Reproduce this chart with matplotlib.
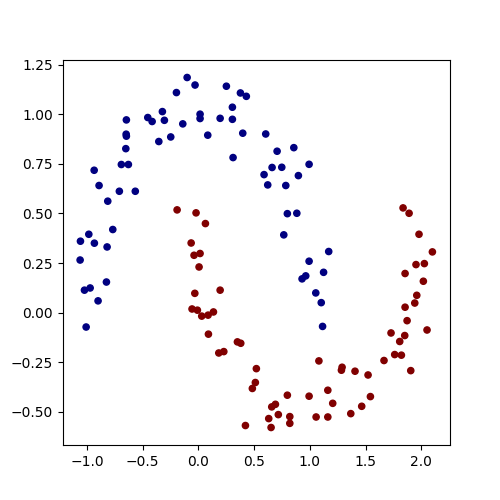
import numpy as np
import matplotlib
matplotlib.use("Agg")
import matplotlib.pyplot as plt

blue_x = [-0.101, -0.030, -0.197, -0.323, -0.454, -0.415, -0.305, -0.646, -0.140, -0.648,
          -0.646, -0.248, -0.355, -0.651, -0.691, -0.628, -0.935, -0.891, -0.709, -0.566,
          0.251, 0.377, 0.430, 0.305, 0.015, 0.015, 0.195, 0.305, 0.084, 0.398,
          0.604, 0.856, 0.706, 0.311, 0.993, 0.661, 0.748, 0.589, 0.897, 0.622,
          0.784, 0.798, 0.883, 0.766, 0.993, 1.123, 0.930, 0.963, 1.053, 1.102,
          1.114, 1.169, -0.813, -0.768, -0.983, -1.058, -0.933, -0.819, -1.061, -0.825,
          -1.022, -0.971, -0.900, -1.007]
blue_y = [1.186, 1.148, 1.110, 1.014, 0.984, 0.964, 0.970, 0.972, 0.952, 0.900,
          0.890, 0.886, 0.863, 0.827, 0.747, 0.747, 0.718, 0.641, 0.612, 0.612,
          1.142, 1.108, 1.091, 1.036, 1.001, 0.979, 0.980, 0.975, 0.895, 0.905,
          0.901, 0.832, 0.814, 0.782, 0.748, 0.732, 0.733, 0.696, 0.691, 0.644,
          0.641, 0.499, 0.501, 0.392, 0.259, 0.203, 0.170, 0.185, 0.099, 0.050,
          -0.070, 0.308, 0.562, 0.419, 0.395, 0.360, 0.350, 0.331, 0.265, 0.154,
          0.113, 0.124, 0.059, -0.073]

red_x = [-0.191, -0.021, 0.063, -0.065, -0.039, 0.015, 0.006, -0.032, 0.195, -0.057,
         -0.009, 0.030, 0.087, 0.135, 0.090, 0.183, 0.228, 0.350, 0.380, 0.520,
         0.511, 0.484, 0.798, 0.993, 1.081, 0.658, 0.691, 0.717, 0.631, 0.820,
         0.820, 0.652, 0.422, 1.056, 1.872, 2.051, 1.728, 1.851, 1.806, 1.761,
         1.821, 1.665, 1.905, 1.289, 1.283, 1.405, 1.522, 1.161, 1.205, 1.543,
         1.465, 1.367, 1.161, 1.836, 1.890, 1.979, 2.099, 1.952, 2.027, 1.854,
         2.018, 1.959, 1.941, 1.854]
red_y = [0.518, 0.503, 0.449, 0.351, 0.289, 0.298, 0.230, 0.097, 0.113, 0.018,
         0.012, -0.018, -0.013, 0.003, -0.109, -0.204, -0.197, -0.148, -0.155, -0.283,
         -0.353, -0.383, -0.417, -0.422, -0.244, -0.476, -0.463, -0.515, -0.535, -0.525,
         -0.559, -0.580, -0.570, -0.527, -0.041, -0.088, -0.103, -0.116, -0.146, -0.212,
         -0.215, -0.242, -0.293, -0.276, -0.291, -0.296, -0.315, -0.392, -0.458, -0.424,
         -0.473, -0.510, -0.527, 0.528, 0.501, 0.395, 0.306, 0.242, 0.247, 0.197,
         0.158, 0.087, 0.048, 0.027]

X = np.array(blue_x + red_x)
Y = np.array(blue_y + red_y)
labels = np.array([0] * len(blue_x) + [1] * len(red_x))

fig, ax = plt.subplots(figsize=(5, 5), dpi=100)
ax.scatter(X, Y, c=labels, cmap="jet", s=20)
fig.savefig("out.png", dpi=100)
